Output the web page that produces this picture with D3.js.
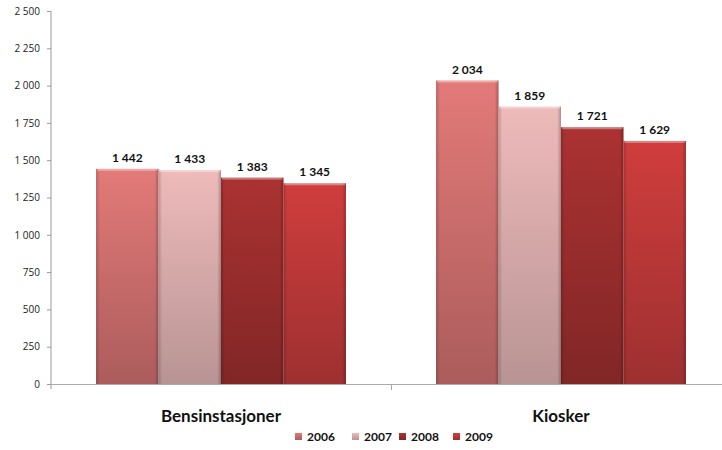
<!DOCTYPE html>
<html>
<head>
<meta charset="utf-8">
<title>Bensinstasjoner og kiosker</title>
<script src="https://d3js.org/d3.v7.min.js"></script>
<style>
  body { margin: 0; background: #fff; }
  svg { display: block; font-family: Lato, "Open Sans", sans-serif; }
</style>
</head>
<body>
<svg width="722" height="450"></svg>
<script>
// data
const categories = ["Bensinstasjoner", "Kiosker"];
const years = ["2006", "2007", "2008", "2009"];
const values2006 = [1442, 2034];
const values2007 = [1433, 1859];
const values2008 = [1383, 1721];
const values2009 = [1345, 1629];
const yTicks = [0, 250, 500, 750, 1000, 1250, 1500, 1750, 2000, 2250, 2500];

const series = [values2006, values2007, values2008, values2009];
// top / bottom colours of each year's gradient
const colours = [
  ["#e27a78", "#ac5c5c"],
  ["#eebaba", "#b99494"],
  ["#ab3232", "#822626"],
  ["#d03d3d", "#9e3030"]
];

const svg = d3.select("svg");
const fmt = d3.formatLocale({ decimal: ",", thousands: " ", grouping: [3] }).format(",d");

const x0 = d3.scaleBand().domain(categories).range([51, 731]);
const groupW = x0.bandwidth() * 0.735;
const x1 = d3.scaleBand().domain(years).range([0, groupW]);
const y = d3.scaleLinear().domain([0, 2500]).range([384, 11]);

const defs = svg.append("defs");
years.forEach((yr, i) => {
  const g = defs.append("linearGradient").attr("id", "g" + yr)
    .attr("x1", 0).attr("y1", 0).attr("x2", 0).attr("y2", 1);
  g.append("stop").attr("offset", "0%").attr("stop-color", colours[i][0]);
  g.append("stop").attr("offset", "100%").attr("stop-color", colours[i][1]);
});
// side shading for the bevel look
const side = defs.append("linearGradient").attr("id", "side")
  .attr("x1", 0).attr("y1", 0).attr("x2", 1).attr("y2", 0);
side.append("stop").attr("offset", "0%").attr("stop-color", "#000").attr("stop-opacity", 0.18);
side.append("stop").attr("offset", "6%").attr("stop-color", "#000").attr("stop-opacity", 0);
side.append("stop").attr("offset", "94%").attr("stop-color", "#000").attr("stop-opacity", 0);
side.append("stop").attr("offset", "100%").attr("stop-color", "#000").attr("stop-opacity", 0.25);

// y axis
const yAxis = d3.axisLeft(y).tickValues(yTicks).tickSize(4).tickPadding(7).tickFormat(fmt);
const ya = svg.append("g").attr("transform", "translate(51,0)").call(yAxis);
ya.select(".domain").attr("stroke", "#999").attr("d", "M0,11V389");
ya.selectAll(".tick line").attr("stroke", "#999");
ya.selectAll(".tick text").attr("fill", "#222").style("font-size", "10px").style("font-family", "'Open Sans', sans-serif");

// x axis
const xa = svg.append("g");
xa.append("line").attr("x1", 51).attr("x2", 731).attr("y1", 384.5).attr("y2", 384.5).attr("stroke", "#aaa");
xa.selectAll("line.div").data(categories.slice(1)).join("line")
  .attr("x1", d => Math.round(x0(d)) + 0.5).attr("x2", d => Math.round(x0(d)) + 0.5)
  .attr("y1", 384).attr("y2", 390).attr("stroke", "#aaa");
xa.selectAll("text").data(categories).join("text")
  .attr("x", d => x0(d) + x0.bandwidth() / 2)
  .attr("y", 422)
  .attr("text-anchor", "middle")
  .style("font-size", "17px").style("font-weight", "bold").attr("fill", "#111")
  .text(d => d);

// bars
const off = (x0.bandwidth() - groupW) / 2;
const rows = [];
categories.forEach((c, ci) => years.forEach((yr, yi) => rows.push({ c, yr, yi, v: series[yi][ci] })));

const bars = svg.append("g").selectAll("g").data(rows).join("g")
  .attr("transform", d => `translate(${x0(d.c) + off + x1(d.yr)},0)`);
bars.append("rect")
  .attr("width", x1.bandwidth()).attr("y", d => y(d.v)).attr("height", d => y(0) - y(d.v))
  .attr("fill", d => "url(#g" + d.yr + ")");
bars.append("rect")
  .attr("width", x1.bandwidth()).attr("y", d => y(d.v)).attr("height", d => y(0) - y(d.v))
  .attr("fill", "url(#side)");
bars.append("rect")
  .attr("x", 1).attr("width", x1.bandwidth() - 2).attr("y", d => y(d.v)).attr("height", 2)
  .attr("fill", "#fff").attr("opacity", 0.35);
bars.append("text")
  .attr("x", x1.bandwidth() / 2).attr("y", d => y(d.v) - 7)
  .attr("text-anchor", "middle")
  .style("font-size", "12px").style("font-weight", "bold").attr("fill", "#111")
  .text(d => fmt(d.v));

// legend
const legX = [295, 352, 399, 453];
const leg = svg.append("g").selectAll("g").data(years).join("g")
  .attr("transform", (d, i) => `translate(${legX[i]},433)`);
leg.append("rect").attr("width", 7).attr("height", 7).attr("fill", d => "url(#g" + d + ")");
leg.append("text").attr("x", 12).attr("y", 8)
  .style("font-size", "12px").style("font-weight", "bold").attr("fill", "#111")
  .text(d => d);
</script>
</body>
</html>
